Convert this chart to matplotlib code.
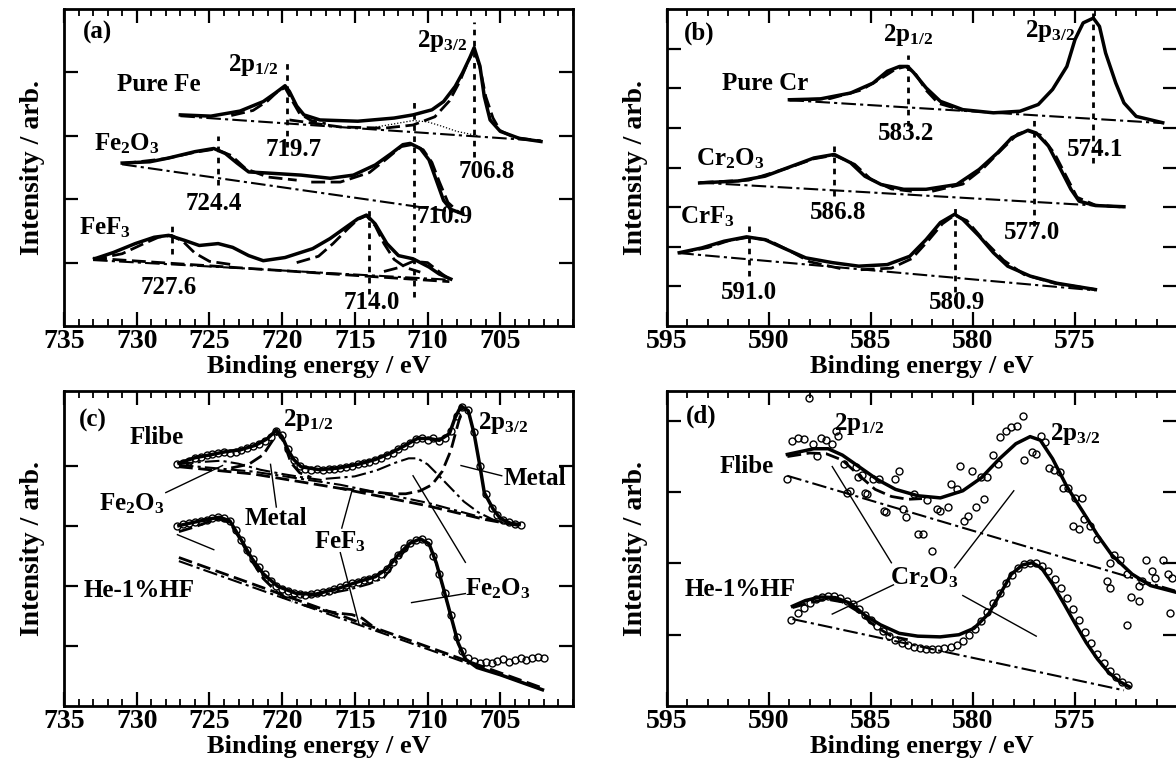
import numpy as np
import matplotlib
matplotlib.use('Agg')
import matplotlib.pyplot as plt
from matplotlib.ticker import MultipleLocator

# ---------------- (a) Fe 2p reference spectra ----------------
a_fe_E = [727.0, 724.9, 722.9, 721.3, 720.5, 719.8, 719.5, 719.0, 718.5, 717.4, 714.8, 712.3,
          711.0, 709.7, 708.9, 708.1, 707.6, 707.1, 706.8, 706.4, 706.1, 705.7, 705.0, 703.7, 702.2]
a_fe_I = [3.33, 3.31, 3.39, 3.54, 3.67, 3.79, 3.70, 3.47, 3.33, 3.25, 3.23, 3.28,
          3.33, 3.41, 3.54, 3.78, 3.99, 4.23, 4.39, 4.10, 3.62, 3.25, 3.07, 2.96, 2.91]
a_fe_bg_E = [727.0, 702.2]
a_fe_bg_I = [3.31, 2.92]
a_fe_c1_E = [723.5, 722.0, 721.0, 720.3, 719.8, 719.3, 718.8, 718.0, 717.0]
a_fe_c1_I = [3.32, 3.40, 3.55, 3.70, 3.76, 3.55, 3.35, 3.24, 3.19]
a_fe_c2_E = [719.5, 716.0, 713.0, 711.0, 709.5, 708.5, 707.8, 707.2, 706.8, 706.4, 706.0, 705.5, 705.0, 704.0, 702.2]
a_fe_c2_I = [3.25, 3.14, 3.12, 3.17, 3.30, 3.55, 3.85, 4.18, 4.36, 4.08, 3.62, 3.28, 3.08, 2.97, 2.92]
a_fe_sat_E = [714.0, 712.0, 711.0, 710.0, 709.0, 708.0, 706.5]
a_fe_sat_I = [3.12, 3.20, 3.24, 3.22, 3.15, 3.07, 3.00]

a_ox_E = [731.0, 729.1, 727.8, 726.0, 724.7, 723.9, 723.1, 722.3, 720.8, 718.7, 716.7, 715.1, 713.6,
          712.5, 711.7, 711.2, 710.5, 709.9, 709.4, 708.9, 708.4, 707.6]
a_ox_I = [2.57, 2.59, 2.65, 2.75, 2.80, 2.72, 2.57, 2.43, 2.41, 2.38, 2.33, 2.38, 2.54,
          2.72, 2.86, 2.88, 2.80, 2.62, 2.30, 1.98, 1.84, 1.77]
a_ox_bg_E = [731.0, 707.6]
a_ox_bg_I = [2.55, 1.78]
a_ox_c1_E = [731.0, 728.0, 726.0, 724.6, 723.5, 722.5, 721.0, 719.0]
a_ox_c1_I = [2.56, 2.64, 2.74, 2.79, 2.69, 2.48, 2.35, 2.30]
a_ox_c2_E = [718.0, 716.0, 714.0, 712.8, 711.8, 711.1, 710.3, 709.7, 709.2, 708.6, 707.8]
a_ox_c2_I = [2.27, 2.27, 2.42, 2.64, 2.83, 2.86, 2.78, 2.58, 2.28, 1.95, 1.78]

a_fl_E = [732.9, 731.6, 730.1, 728.8, 727.8, 726.7, 725.7, 724.4, 723.4, 722.3, 721.3, 719.8, 717.9,
          716.7, 715.6, 714.8, 714.2, 713.6, 712.8, 712.0, 711.0, 709.9, 709.2, 708.4]
a_fl_I = [1.06, 1.16, 1.30, 1.40, 1.43, 1.35, 1.27, 1.30, 1.24, 1.11, 1.03, 1.08, 1.22,
          1.38, 1.56, 1.69, 1.75, 1.61, 1.30, 1.11, 1.06, 0.93, 0.82, 0.74]
a_fl_bg_E = [733.0, 708.5]
a_fl_bg_I = [1.04, 0.73]
a_fl_bg2_I = [1.07, 0.70]
a_fl_c1_E = [733.0, 731.0, 729.5, 728.5, 727.6, 726.8, 726.0, 725.0, 723.5]
a_fl_c1_I = [1.05, 1.14, 1.30, 1.40, 1.43, 1.33, 1.15, 1.02, 0.97]
a_fl_c2_E = [719.0, 717.5, 716.5, 715.5, 714.8, 714.2, 713.6, 713.0, 712.3, 711.5, 710.5]
a_fl_c2_I = [1.00, 1.10, 1.30, 1.53, 1.68, 1.74, 1.58, 1.30, 1.05, 0.92, 0.85]
a_fl_c3_E = [713.0, 712.0, 711.0, 710.0, 709.0, 708.5]
a_fl_c3_I = [0.86, 0.92, 1.02, 1.00, 0.82, 0.74]

# peak marks (a): energy, bottom, top
a_marks = [(719.7, 2.83, 4.20), (706.8, 2.67, 4.79), (710.9, 0.45, 3.60),
           (724.4, 2.22, 3.00), (727.6, 1.14, 1.61), (714.0, 0.50, 1.85)]

# ---------------- (b) Cr 2p reference spectra ----------------
b_cr_E = [589.0, 587.5, 586.0, 584.9, 584.2, 583.6, 583.2, 582.9, 582.3, 581.6, 580.5, 579.0, 577.7,
          576.8, 576.1, 575.4, 575.0, 574.6, 574.1, 573.8, 573.5, 573.0, 572.6, 572.0, 570.7]
b_cr_I = [5.71, 5.73, 5.88, 6.13, 6.43, 6.55, 6.55, 6.39, 6.01, 5.67, 5.46, 5.38, 5.42,
          5.59, 5.97, 6.55, 7.23, 7.65, 7.77, 7.56, 6.89, 6.13, 5.63, 5.29, 5.13]
b_cr_bg_E = [589.0, 570.7]
b_cr_bg_I = [5.70, 5.12]
b_cr_c1_E = [589.0, 587.0, 585.5, 584.5, 583.8, 583.3, 582.8, 582.3, 581.7, 580.5]
b_cr_c1_I = [5.70, 5.74, 5.95, 6.25, 6.48, 6.55, 6.35, 5.95, 5.62, 5.44]

b_ox_E = [593.4, 591.5, 590.2, 588.9, 587.8, 586.8, 586.0, 585.3, 584.5, 583.4, 582.3, 580.8, 579.7,
          578.8, 578.1, 577.3, 576.9, 576.3, 575.7, 575.2, 574.8, 574.0, 572.6]
b_ox_I = [3.61, 3.66, 3.78, 4.03, 4.24, 4.33, 4.12, 3.78, 3.57, 3.45, 3.45, 3.57, 3.95,
          4.37, 4.75, 4.94, 4.87, 4.54, 3.95, 3.45, 3.15, 3.04, 3.01]
b_ox_bg_E = [593.4, 572.6]
b_ox_bg_I = [3.62, 3.00]
b_ox_c1_E = [593.4, 591.0, 589.0, 587.8, 586.8, 585.8, 585.0, 584.0, 583.0]
b_ox_c1_I = [3.62, 3.68, 4.00, 4.22, 4.31, 4.08, 3.70, 3.46, 3.40]
b_ox_c2_E = [582.0, 580.5, 579.5, 578.5, 577.8, 577.3, 576.7, 576.0, 575.4, 574.9, 574.0, 572.6]
b_ox_c2_I = [3.40, 3.58, 3.98, 4.50, 4.85, 4.92, 4.82, 4.35, 3.75, 3.25, 3.05, 3.00]

b_fl_E = [594.4, 593.3, 592.2, 591.1, 590.2, 589.3, 588.2, 586.9, 585.6, 584.2, 583.1, 582.3, 581.6,
          580.9, 580.5, 579.7, 579.0, 578.3, 577.2, 575.9, 574.0]
b_fl_I = [1.85, 1.97, 2.14, 2.25, 2.18, 1.97, 1.72, 1.60, 1.51, 1.55, 1.76, 2.18, 2.61,
          2.82, 2.69, 2.27, 1.85, 1.51, 1.26, 1.08, 0.92]
b_fl_bg_E = [594.4, 574.0]
b_fl_bg_I = [1.84, 0.90]
b_fl_c1_E = [594.4, 593.0, 592.0, 591.0, 590.0, 589.0, 588.0, 586.5]
b_fl_c1_I = [1.84, 1.98, 2.15, 2.24, 2.16, 1.90, 1.62, 1.45]
b_fl_c2_E = [585.5, 584.0, 583.0, 582.2, 581.5, 580.9, 580.3, 579.5, 578.5, 577.5, 576.0, 574.0]
b_fl_c2_I = [1.42, 1.46, 1.70, 2.15, 2.58, 2.80, 2.66, 2.18, 1.66, 1.30, 1.08, 0.92]

b_marks = [(583.2, 5.04, 6.85), (574.1, 4.12, 7.90), (586.8, 3.28, 4.54),
           (577.0, 2.52, 5.21), (591.0, 1.26, 2.52), (580.9, 0.59, 3.03)]

# ---------------- (c) Fe 2p after exposure ----------------
c_pts_fli_E = np.arange(727.2, 703.5, -0.4)
c_pts_fli_I = [4.02, 4.05, 4.08, 4.12, 4.14, 4.17, 4.19, 4.21, 4.22, 4.21, 4.23, 4.26, 4.29, 4.32, 4.36,
               4.41, 4.48, 4.57, 4.50, 4.28, 4.10, 3.99, 3.95, 3.93, 3.94, 3.92, 3.94, 3.95, 3.96, 3.98,
               3.99, 4.02, 4.04, 4.06, 4.09, 4.13, 4.17, 4.21, 4.27, 4.32, 4.37, 4.44, 4.46, 4.42, 4.45,
               4.40, 4.45, 4.58, 4.82, 4.98, 4.92, 4.55, 4.00, 3.52, 3.30, 3.18, 3.10, 3.06, 3.03, 3.01]
c_fit_fli_E = [727.1, 726.0, 724.9, 723.9, 722.9, 721.8, 721.0, 720.4, 720.0, 719.6, 719.2, 718.7, 717.4,
               716.1, 714.8, 713.6, 712.5, 711.5, 710.7, 709.9, 709.2, 708.5, 708.1, 707.7, 707.2, 706.8,
               706.4, 706.1, 705.5, 705.0, 704.3, 703.7]
c_fit_fli_I = [4.04, 4.13, 4.18, 4.23, 4.26, 4.34, 4.45, 4.59, 4.48, 4.26, 4.10, 3.98, 3.93,
               3.96, 4.02, 4.10, 4.21, 4.34, 4.45, 4.45, 4.42, 4.53, 4.80, 4.99, 4.91, 4.53,
               3.99, 3.55, 3.28, 3.12, 3.04, 3.02]
c_fli_bg_E = [727.1, 722.0, 716.0, 710.0, 706.0, 703.7]
c_fli_bg_I = [4.01, 3.90, 3.68, 3.38, 3.12, 3.00]
c_fli_bg2_I = [3.98, 3.86, 3.62, 3.33, 3.10, 3.00]
c_fli_ox1_E = [727.1, 725.5, 724.2, 723.0, 721.5, 720.0, 718.5, 717.0]
c_fli_ox1_I = [4.03, 4.06, 4.08, 4.03, 3.93, 3.86, 3.80, 3.75]
c_fli_m1_E = [723.5, 722.3, 721.3, 720.7, 720.3, 719.9, 719.4, 718.8, 718.0]
c_fli_m1_I = [3.96, 4.02, 4.18, 4.40, 4.55, 4.40, 4.05, 3.88, 3.80]
c_fli_ox2_E = [717.0, 715.0, 713.5, 712.3, 711.3, 710.7, 710.0, 709.3, 708.5, 707.5, 706.5, 705.5, 704.5]
c_fli_ox2_I = [3.78, 3.82, 3.92, 4.04, 4.12, 4.12, 4.02, 3.85, 3.65, 3.40, 3.22, 3.10, 3.03]
c_fli_m2_E = [716.0, 714.0, 712.5, 711.5, 710.5, 709.7, 709.0, 708.4, 707.9, 707.6]
c_fli_m2_I = [3.62, 3.57, 3.53, 3.53, 3.58, 3.68, 3.90, 4.25, 4.70, 4.95]

c_pts_he_E = np.arange(727.2, 701.9, -0.4)
c_pts_he_I = [2.99, 3.02, 3.05, 3.06, 3.08, 3.10, 3.12, 3.15, 3.13, 3.07, 2.93, 2.76, 2.60, 2.45, 2.31,
              2.19, 2.08, 2.00, 1.95, 1.91, 1.88, 1.86, 1.85, 1.87, 1.88, 1.90, 1.92, 1.95, 1.98, 2.01,
              2.04, 2.06, 2.09, 2.12, 2.15, 2.20, 2.28, 2.40, 2.52, 2.63, 2.71, 2.76, 2.78, 2.72, 2.50,
              2.20, 1.88, 1.52, 1.15, 0.92, 0.80, 0.75, 0.72, 0.74, 0.71, 0.75, 0.78, 0.73, 0.77, 0.80,
              0.76, 0.80, 0.82, 0.80]
c_fit_he_E = [727.1, 726.0, 725.0, 724.3, 723.6, 722.9, 722.1, 721.3, 720.3, 719.0, 717.7, 716.1, 714.6,
              713.6, 712.8, 712.0, 711.2, 710.5, 709.9, 709.4, 708.9, 708.4, 707.9, 707.4, 706.6, 705.0,
              703.5, 702.1]
c_fit_he_I = [3.00, 3.06, 3.11, 3.14, 3.08, 2.80, 2.46, 2.20, 1.99, 1.87, 1.86, 1.96, 2.08,
              2.15, 2.28, 2.52, 2.71, 2.78, 2.70, 2.38, 1.95, 1.50, 1.05, 0.78, 0.64, 0.52,
              0.39, 0.27]
c_he_bg_E = [727.1, 702.1]
c_he_bg_I = [2.41, 0.27]
c_he_bg2_I = [2.47, 0.30]
c_he_ox1_E = [727.1, 726.0, 725.0, 724.3, 723.6, 722.9, 722.1, 721.3, 720.3, 719.3]
c_he_ox1_I = [2.90, 2.98, 3.07, 3.11, 3.05, 2.78, 2.42, 2.12, 1.88, 1.74]
c_he_f_E = [718.5, 717.0, 716.0, 715.2, 714.5, 713.8, 713.2]
c_he_f_I = [1.68, 1.58, 1.54, 1.52, 1.46, 1.33, 1.23]
c_he_ox2_E = [720.0, 718.5, 717.0, 715.5, 714.0, 713.0, 712.0, 711.2, 710.5, 709.9, 709.4, 708.9, 708.4,
              707.9, 707.3, 706.5]
c_he_ox2_I = [1.80, 1.82, 1.86, 1.93, 2.03, 2.13, 2.45, 2.68, 2.77, 2.69, 2.37, 1.94, 1.49,
              1.04, 0.75, 0.66]

# ---------------- (d) Cr 2p after exposure ----------------
d_pts_fli_E = [589.13, 588.85, 588.58, 588.30, 587.84, 587.44, 587.20, 586.93, 586.74, 586.60, 587.66,
               586.34, 586.16, 586.01, 585.73, 585.64, 585.46, 585.28, 585.18, 584.91, 584.63, 584.36,
               584.27, 583.84, 583.62, 583.44, 583.26, 582.89, 582.71, 582.47, 582.25, 582.01, 581.75,
               581.61, 581.24, 581.06, 580.78, 580.63, 580.45, 580.23, 580.05, 579.86, 579.59, 579.44,
               579.31, 579.04, 578.76, 578.67, 578.39, 578.12, 577.84, 577.57, 577.48, 577.11, 576.93,
               576.65, 576.47, 576.28, 576.01, 575.73, 575.59, 575.33, 575.00, 574.67, 575.09, 574.82,
               574.54, 574.27, 573.91, 573.07, 572.80, 572.43, 573.26, 573.44, 573.26, 572.25, 571.88,
               571.51, 571.24, 571.06, 570.69, 570.45, 570.23, 571.70, 571.88, 572.43, 570.32, 588.03]
d_pts_fli_I = [3.18, 3.72, 3.76, 3.75, 3.68, 3.76, 3.73, 3.68, 3.86, 3.79, 3.51,
               3.40, 2.99, 3.02, 3.35, 3.22, 3.24, 2.99, 2.97, 3.18, 3.18, 2.74,
               2.72, 3.18, 3.30, 2.76, 2.65, 2.97, 2.42, 2.41, 2.89, 2.17, 2.76,
               2.74, 2.79, 3.12, 3.05, 3.37, 2.59, 2.66, 3.30, 2.79, 3.22, 2.91,
               3.22, 3.52, 3.40, 3.77, 3.86, 3.91, 3.93, 4.07, 3.45, 3.57, 3.54,
               3.79, 3.70, 3.34, 3.31, 3.29, 3.06, 3.06, 2.92, 2.92, 2.53, 2.49,
               2.63, 2.53, 2.35, 2.12, 2.05, 1.85, 2.01, 1.76, 1.66, 1.53, 1.48,
               2.05, 1.89, 1.80, 2.05, 1.85, 1.80, 1.76, 1.69, 1.14, 1.30, 4.32]
d_fit_fli_E = [589.1, 587.8, 587.1, 586.4, 585.6, 584.7, 583.8, 582.7, 581.6, 580.5, 579.6, 578.7, 577.9,
               577.2, 576.7, 576.1, 575.4, 574.6, 573.9, 573.2, 572.2, 571.3, 570.1]
d_fit_fli_I = [3.53, 3.61, 3.61, 3.52, 3.36, 3.18, 3.04, 2.95, 2.92, 3.02, 3.20, 3.47, 3.68,
               3.78, 3.73, 3.47, 3.08, 2.72, 2.40, 2.12, 1.85, 1.69, 1.60]
d_fli_bg_E = [589.1, 570.1]
d_fli_bg_I = [3.23, 1.62]
d_fli_c1_E = [589.1, 588.0, 587.2, 586.4, 585.6, 584.8, 584.0, 583.2, 582.5]
d_fli_c1_I = [3.50, 3.55, 3.54, 3.45, 3.24, 3.04, 2.94, 2.90, 2.91]

d_pts_he_E = np.arange(588.9, 572.3, -0.3)
d_pts_he_I = [1.21, 1.30, 1.38, 1.45, 1.50, 1.53, 1.54, 1.54, 1.52, 1.48, 1.43, 1.36, 1.28, 1.20,
              1.12, 1.05, 0.98, 0.93, 0.89, 0.85, 0.83, 0.81, 0.80, 0.80, 0.80, 0.81, 0.83, 0.86,
              0.91, 0.99, 1.08, 1.19, 1.32, 1.45, 1.58, 1.72, 1.84, 1.93, 1.99, 2.01, 2.00, 1.96,
              1.89, 1.78, 1.65, 1.51, 1.36, 1.20, 1.04, 0.88, 0.73, 0.60, 0.49, 0.40, 0.33, 0.30]
d_fit_he_E = [588.85, 588.21, 587.48, 586.74, 586.01, 585.28, 584.54, 583.62, 582.71, 581.61, 580.69,
              579.95, 579.22, 578.67, 578.12, 577.57, 577.11, 576.65, 576.10, 575.55, 575.00, 574.45,
              573.90, 573.35, 572.80, 572.34]
d_fit_he_I = [1.40, 1.48, 1.53, 1.52, 1.44, 1.27, 1.14, 1.02, 0.98, 0.97, 1.00,
              1.09, 1.30, 1.57, 1.85, 1.98, 2.01, 1.94, 1.71, 1.44, 1.16, 0.89,
              0.66, 0.47, 0.34, 0.27]
d_he_bg_E = [588.85, 572.6]
d_he_bg_I = [1.22, 0.22]
d_he_c1_E = [588.85, 588.0, 587.2, 586.4, 585.6, 584.8, 584.0, 583.2]
d_he_c1_I = [1.38, 1.45, 1.50, 1.46, 1.32, 1.12, 0.98, 0.93]

fe_ticks = [735, 730, 725, 720, 715, 710, 705]
cr_ticks = [595, 590, 585, 580, 575]

# ---------------- style ----------------
plt.rcParams['font.family'] = ['Liberation Serif', 'DejaVu Serif']
plt.rcParams['font.weight'] = 'bold'
plt.rcParams['axes.labelweight'] = 'bold'
plt.rcParams['mathtext.fontset'] = 'custom'
plt.rcParams['mathtext.rm'] = 'Liberation Serif:bold'
plt.rcParams['mathtext.it'] = 'Liberation Serif:bold'
plt.rcParams['mathtext.bf'] = 'Liberation Serif:bold'

SOLID = dict(color='k', lw=2.5, ls='-')
DASH = dict(color='k', lw=2.0, ls=(0, (5, 2)))
DASHDOT = dict(color='k', lw=1.5, ls=(0, (7, 2, 1.5, 2)))
THIN = dict(color='k', lw=0.9, ls=(0, (1, 1.5)))
MARK = dict(color='k', lw=2.0, ls=(0, (2, 2)))
PTS = dict(ls='none', marker='o', ms=5, mfc='none', mec='k', mew=1.0)
FS_TXT = 18

fig = plt.figure(figsize=(11.76, 7.6), dpi=100)
fig.patch.set_facecolor('white')


def setup(ax, xlim, ylim, nticks, xticks):
    ax.set_xlim(*xlim)
    ax.set_ylim(*ylim)
    ax.set_xticks(xticks)
    ax.xaxis.set_minor_locator(MultipleLocator(1))
    ax.set_yticks(range(1, nticks + 1))
    ax.tick_params(which='both', direction='in', top=True, right=True, labelleft=False)
    ax.tick_params(which='major', length=10, width=1.6, labelsize=20, pad=2)
    ax.tick_params(which='minor', length=5, width=1.3)
    for s in ax.spines.values():
        s.set_linewidth(2)
    ax.set_xlabel('Binding energy / eV', fontsize=19, labelpad=1)
    ax.set_ylabel('Intensity / arb.', fontsize=20, labelpad=14)


def txt(ax, x, y, s, size=FS_TXT):
    ax.text(x, y, s, fontsize=size, ha='center', va='center')


def pointer(ax, x0, y0, x1, y1):
    ax.plot([x0, x1], [y0, y1], color='k', lw=1.0)


# ---- (a)
ax = fig.add_axes([64 / 1176, 1 - 326 / 760, 509 / 1176, 317 / 760])
setup(ax, (735, 700), (0, 5), 4, fe_ticks)
ax.plot(a_fe_bg_E, a_fe_bg_I, **DASHDOT)
ax.plot(a_fe_c1_E, a_fe_c1_I, **DASH)
ax.plot(a_fe_c2_E, a_fe_c2_I, **DASH)
ax.plot(a_fe_sat_E, a_fe_sat_I, **THIN)
ax.plot(a_fe_E, a_fe_I, **SOLID)
ax.plot(a_ox_bg_E, a_ox_bg_I, **DASHDOT)
ax.plot(a_ox_c1_E, a_ox_c1_I, **DASH)
ax.plot(a_ox_c2_E, a_ox_c2_I, **DASH)
ax.plot(a_ox_E, a_ox_I, **SOLID)
ax.plot(a_fl_bg_E, a_fl_bg_I, **DASHDOT)
ax.plot(a_fl_bg_E, a_fl_bg2_I, **DASH)
ax.plot(a_fl_c1_E, a_fl_c1_I, **DASH)
ax.plot(a_fl_c2_E, a_fl_c2_I, **DASH)
ax.plot(a_fl_c3_E, a_fl_c3_I, **DASH)
ax.plot(a_fl_E, a_fl_I, **SOLID)
for e, lo, hi in a_marks:
    ax.plot([e, e], [lo, hi], **MARK)
txt(ax, 732.7, 4.63, '(a)')
txt(ax, 728.5, 3.81, 'Pure Fe')
txt(ax, 722.0, 4.12, r'2p$_{1/2}$')
txt(ax, 709.0, 4.50, r'2p$_{3/2}$')
txt(ax, 719.2, 2.78, '719.7')
txt(ax, 705.9, 2.43, '706.8')
txt(ax, 730.7, 2.88, r'Fe$_2$O$_3$')
txt(ax, 724.7, 1.93, '724.4')
txt(ax, 708.8, 1.72, '710.9')
txt(ax, 732.2, 1.55, r'FeF$_3$')
txt(ax, 727.8, 0.61, '727.6')
txt(ax, 713.8, 0.37, '714.0')

# ---- (b)
ax = fig.add_axes([667 / 1176, 1 - 326 / 760, 510 / 1176, 317 / 760])
setup(ax, (595, 570), (0, 8), 7, cr_ticks)
ax.plot(b_cr_bg_E, b_cr_bg_I, **DASHDOT)
ax.plot(b_cr_c1_E, b_cr_c1_I, **DASH)
ax.plot(b_cr_E, b_cr_I, **SOLID)
ax.plot(b_ox_bg_E, b_ox_bg_I, **DASHDOT)
ax.plot(b_ox_c1_E, b_ox_c1_I, **DASH)
ax.plot(b_ox_c2_E, b_ox_c2_I, **DASH)
ax.plot(b_ox_E, b_ox_I, **SOLID)
ax.plot(b_fl_bg_E, b_fl_bg_I, **DASHDOT)
ax.plot(b_fl_c1_E, b_fl_c1_I, **DASH)
ax.plot(b_fl_c2_E, b_fl_c2_I, **DASH)
ax.plot(b_fl_E, b_fl_I, **SOLID)
for e, lo, hi in b_marks:
    ax.plot([e, e], [lo, hi], **MARK)
txt(ax, 593.4, 7.39, '(b)')
txt(ax, 583.2, 7.35, r'2p$_{1/2}$')
txt(ax, 576.2, 7.45, r'2p$_{3/2}$')
txt(ax, 590.2, 6.13, 'Pure Cr')
txt(ax, 583.3, 4.87, '583.2')
txt(ax, 574.0, 4.45, '574.1')
txt(ax, 591.9, 4.22, r'Cr$_2$O$_3$')
txt(ax, 586.6, 2.86, '586.8')
txt(ax, 577.1, 2.35, '577.0')
txt(ax, 593.0, 2.75, r'CrF$_3$')
txt(ax, 591.0, 0.84, '591.0')
txt(ax, 580.8, 0.59, '580.9')

# ---- (c)
ax = fig.add_axes([64 / 1176, 1 - 706 / 760, 509 / 1176, 315 / 760])
setup(ax, (735, 700), (0, 5.24), 4, fe_ticks)
ax.plot(c_fli_bg_E, c_fli_bg_I, **DASHDOT)
ax.plot(c_fli_bg_E, c_fli_bg2_I, **DASH)
ax.plot(c_fli_ox1_E, c_fli_ox1_I, **DASHDOT)
ax.plot(c_fli_m1_E, c_fli_m1_I, **DASH)
ax.plot(c_fli_ox2_E, c_fli_ox2_I, **DASHDOT)
ax.plot(c_fli_m2_E, c_fli_m2_I, **DASH)
ax.plot(c_fit_fli_E, c_fit_fli_I, **SOLID)
ax.plot(c_pts_fli_E, c_pts_fli_I, **PTS)
ax.plot(c_he_bg_E, c_he_bg_I, **DASHDOT)
ax.plot(c_he_bg_E, c_he_bg2_I, **DASH)
ax.plot(c_he_ox1_E, c_he_ox1_I, **DASH)
ax.plot(c_he_f_E, c_he_f_I, **DASH)
ax.plot(c_he_ox2_E, c_he_ox2_I, **DASHDOT)
ax.plot(c_fit_he_E, c_fit_he_I, **SOLID)
ax.plot(c_pts_he_E, c_pts_he_I, **PTS)
txt(ax, 733.0, 4.75, '(c)')
txt(ax, 728.6, 4.47, 'Flibe')
txt(ax, 718.2, 4.75, r'2p$_{1/2}$')
txt(ax, 704.8, 4.70, r'2p$_{3/2}$')
txt(ax, 702.6, 3.78, 'Metal')
pointer(ax, 704.9, 3.83, 707.7, 4.00)
txt(ax, 720.4, 3.12, 'Metal')
pointer(ax, 720.4, 3.31, 720.8, 4.02)
txt(ax, 730.3, 3.36, r'Fe$_2$O$_3$')
pointer(ax, 728.0, 3.55, 724.1, 4.00)
pointer(ax, 727.2, 2.85, 724.7, 2.60)
txt(ax, 716.0, 2.74, r'FeF$_3$')
pointer(ax, 715.9, 2.96, 715.2, 3.58)
pointer(ax, 716.0, 2.55, 714.7, 1.35)
txt(ax, 705.2, 1.95, r'Fe$_2$O$_3$')
pointer(ax, 707.4, 2.39, 711.0, 3.83)
pointer(ax, 707.4, 1.87, 711.1, 1.72)
txt(ax, 729.8, 1.92, 'He-1%HF')

# ---- (d)
ax = fig.add_axes([667 / 1176, 1 - 706 / 760, 510 / 1176, 315 / 760])
setup(ax, (595, 570), (0, 4.42), 4, cr_ticks)
ax.plot(d_fli_bg_E, d_fli_bg_I, **DASHDOT)
ax.plot(d_fli_c1_E, d_fli_c1_I, **DASH)
ax.plot(d_fit_fli_E, d_fit_fli_I, **SOLID)
ax.plot(d_pts_fli_E, d_pts_fli_I, **PTS)
ax.plot(d_he_bg_E, d_he_bg_I, **DASHDOT)
ax.plot(d_he_c1_E, d_he_c1_I, **DASH)
ax.plot(d_fit_he_E, d_fit_he_I, **SOLID)
ax.plot(d_pts_he_E, d_pts_he_I, **PTS)
txt(ax, 593.3, 4.07, '(d)')
txt(ax, 585.6, 3.95, r'2p$_{1/2}$')
txt(ax, 575.0, 3.82, r'2p$_{3/2}$')
txt(ax, 591.1, 3.36, 'Flibe')
txt(ax, 591.4, 1.64, 'He-1%HF')
txt(ax, 582.4, 1.80, r'Cr$_2$O$_3$')
pointer(ax, 584.0, 2.01, 586.9, 3.36)
pointer(ax, 580.9, 1.94, 578.0, 3.02)
pointer(ax, 583.9, 1.70, 586.9, 1.29)
pointer(ax, 580.5, 1.55, 576.9, 0.98)

fig.savefig('out.png', dpi=100, facecolor='white')
